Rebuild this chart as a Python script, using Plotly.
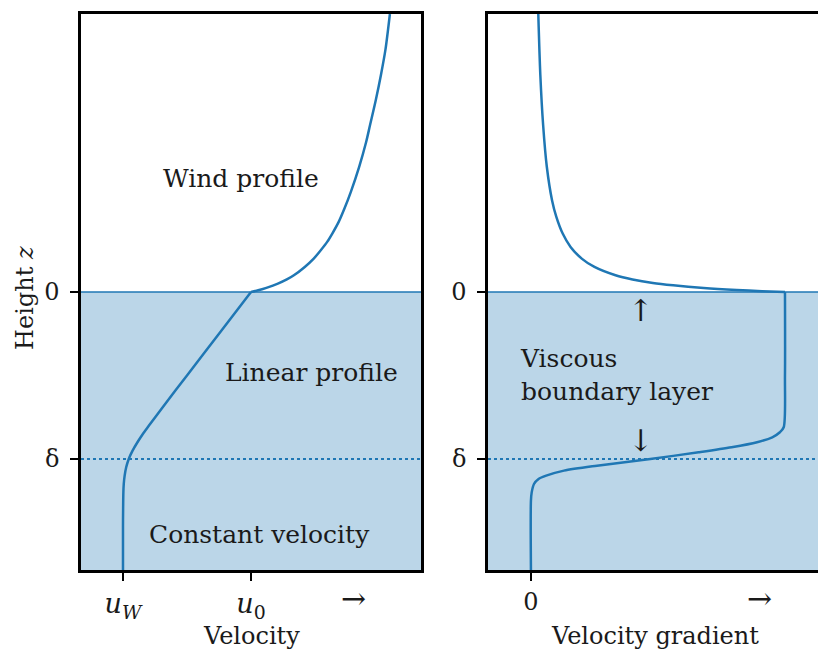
import plotly.graph_objects as go

# ---- data -----------------------------------------------------------------
# Height coordinate: 0 = top of the viscous layer, -1 = delta
DELTA = -1.0
Z_MIN, Z_MAX = -1.665, 1.665

# Velocity profile below the top of the viscous layer (u_W = 0, u_0 = 1)
z_vel_low = [-1.665, -1.4, -1.3, -1.2, -1.15, -1.1, -1.05, -1.0, -0.95, -0.9,
             -0.85, -0.8, -0.7, -0.5, -0.25, 0.0]
u_vel_low = [0.0, 0.0, 0.001, 0.003, 0.006, 0.013, 0.025, 0.045, 0.075, 0.113,
             0.155, 0.203, 0.30, 0.50, 0.75, 1.0]

# Wind profile above it
z_vel_high = [0.0, 0.01, 0.025, 0.05, 0.075, 0.1, 0.15, 0.2, 0.25, 0.3, 0.35,
              0.42, 0.5, 0.6, 0.75, 0.9, 1.0, 1.15, 1.3, 1.45, 1.665]
u_vel_high = [1.0, 1.056, 1.12, 1.21, 1.28, 1.335, 1.42, 1.49, 1.545, 1.595,
              1.635, 1.685, 1.73, 1.78, 1.845, 1.9, 1.93, 1.975, 2.015, 2.05,
              2.085]

# Velocity gradient (normalised to 1 inside the viscous layer)
z_grad_low = [-1.665, -1.25, -1.2, -1.15, -1.12, -1.1, -1.07, -1.04, -1.0,
              -0.96, -0.93, -0.9, -0.87, -0.84, -0.81, -0.5, 0.0]
g_grad_low = [0.0, 0.0, 0.003, 0.012, 0.03, 0.06, 0.13, 0.26, 0.47, 0.66,
              0.79, 0.89, 0.95, 0.98, 0.995, 1.0, 1.0]

z_grad_high = [0.0, 0.005, 0.012, 0.024, 0.04, 0.054, 0.075, 0.1, 0.15, 0.2,
               0.27, 0.35, 0.45, 0.55, 0.75, 1.0, 1.3, 1.665]
g_grad_high = [1.0, 0.91, 0.81, 0.68, 0.56, 0.48, 0.40, 0.333, 0.25, 0.20,
               0.156, 0.125, 0.10, 0.083, 0.0625, 0.048, 0.037, 0.029]

y_tickvals = [0.0, DELTA]
y_ticktext = ["0", "δ"]
vel_tickvals = [0.0, 1.0]
vel_ticktext = ["<i>u</i><sub><i>W</i></sub>", "<i>u</i><sub>0</sub>"]
grad_tickvals = [0.0]
grad_ticktext = ["0"]

# ---- styling --------------------------------------------------------------
W, H = 818, 651
ML, MR, MT, MB = 0, 0, 14, 81
BLUE = "#1f77b4"
FILL = "rgba(31,119,180,0.3)"
FONT = "DejaVu Serif"
INK = "#1a1a1a"

left_px = (81, 421)
right_px = (488, 818)
plot_h = H - MT - MB


def paper_y(px):
    """Convert a pixel row into paper coordinates of the plotting area."""
    return (H - MB - px) / plot_h


fig = go.Figure()

line_kw = dict(color=BLUE, width=2.5, shape="spline", smoothing=0.8)
for xs, zs, ax in [(u_vel_low, z_vel_low, ("x", "y")),
                   (u_vel_high, z_vel_high, ("x", "y")),
                   (g_grad_low, z_grad_low, ("x2", "y2")),
                   (g_grad_high, z_grad_high, ("x2", "y2"))]:
    fig.add_trace(go.Scatter(x=xs, y=zs, mode="lines", line=line_kw,
                             xaxis=ax[0], yaxis=ax[1], showlegend=False,
                             hoverinfo="skip"))

shapes = []
for xr, yr in [("x domain", "y"), ("x2 domain", "y2")]:
    shapes.append(dict(type="rect", xref=xr, yref=yr, x0=0, x1=1,
                       y0=Z_MIN, y1=0, fillcolor=FILL, line_width=0,
                       layer="below"))
    shapes.append(dict(type="line", xref=xr, yref=yr, x0=0, x1=1,
                       y0=0, y1=0, line=dict(color=BLUE, width=1.6),
                       layer="below"))
    shapes.append(dict(type="line", xref=xr, yref=yr, x0=0, x1=1,
                       y0=DELTA, y1=DELTA,
                       line=dict(color=BLUE, width=2, dash="dot"),
                       layer="below"))

text_font = dict(family=FONT, size=25, color=INK)
arrow_font = dict(family=FONT, size=30, color=INK)
title_font = dict(family=FONT, size=24, color=INK)
mid = dict(showarrow=False, xanchor="center", yanchor="middle")
annotations = [
    dict(x=0.92, y=0.677, xref="x", yref="y", text="Wind profile",
         font=text_font, **mid),
    dict(x=1.47, y=-0.485, xref="x", yref="y", text="Linear profile",
         font=text_font, **mid),
    dict(x=1.07, y=-1.45, xref="x", yref="y", text="Constant velocity",
         font=text_font, **mid),
    dict(x=-0.05, y=-0.497, xref="x2", yref="y2",
         text="Viscous<br>boundary layer", showarrow=False, align="left",
         xanchor="left", yanchor="middle", font=text_font),
    dict(x=0.433, y=-0.11, xref="x2", yref="y2", text="↑",
         font=arrow_font, **mid),
    dict(x=0.433, y=-0.89, xref="x2", yref="y2", text="↓",
         font=arrow_font, **mid),
    # direction arrows on the horizontal axes
    dict(x=1.797, y=paper_y(598), xref="x", yref="paper", text="→",
         font=arrow_font, **mid),
    dict(x=0.90, y=paper_y(598), xref="x2", yref="paper", text="→",
         font=arrow_font, **mid),
    # axis titles
    dict(x=0.5, y=paper_y(636), xref="x domain", yref="paper",
         text="Velocity", font=title_font, **mid),
    dict(x=0.505, y=paper_y(636), xref="x2 domain", yref="paper",
         text="Velocity gradient", font=title_font, **mid),
    dict(x=25 / W, y=paper_y(298), xref="paper", yref="paper",
         text="Height <i>z</i>", textangle=-90, font=title_font, **mid),
]

axis_common = dict(showgrid=False, zeroline=False, showline=True,
                   linecolor="black", linewidth=2.5, ticks="outside",
                   ticklen=8, tickwidth=2, tickcolor="black",
                   tickfont=dict(family=FONT, size=24, color=INK),
                   automargin=False)

fig.update_layout(
    width=W, height=H,
    margin=dict(l=ML, r=MR, t=MT, b=MB),
    paper_bgcolor="white", plot_bgcolor="white",
    shapes=shapes, annotations=annotations,
    xaxis=dict(domain=[left_px[0] / W, left_px[1] / W],
               range=[-0.328, 2.328], tickmode="array",
               tickvals=vel_tickvals, ticktext=vel_ticktext,
               mirror=True, anchor="y", **axis_common),
    yaxis=dict(range=[Z_MIN, Z_MAX], tickmode="array",
               tickvals=y_tickvals, ticktext=y_ticktext,
               mirror=True, anchor="x", ticklabelstandoff=6, **axis_common),
    xaxis2=dict(domain=[right_px[0] / W, 1.0],
                range=[-0.169, 1.130], tickmode="array",
                tickvals=grad_tickvals, ticktext=grad_ticktext,
                mirror=True, anchor="y2", **axis_common),
    yaxis2=dict(range=[Z_MIN, Z_MAX], tickmode="array",
                tickvals=y_tickvals, ticktext=y_ticktext,
                mirror=False, anchor="x2", ticklabelstandoff=6,
                **axis_common),
)
# larger math-style labels on the velocity axis
fig.update_xaxes(tickfont=dict(family=FONT, size=27, color=INK),
                 selector=dict(anchor="y"))

fig.write_html("out.html")
